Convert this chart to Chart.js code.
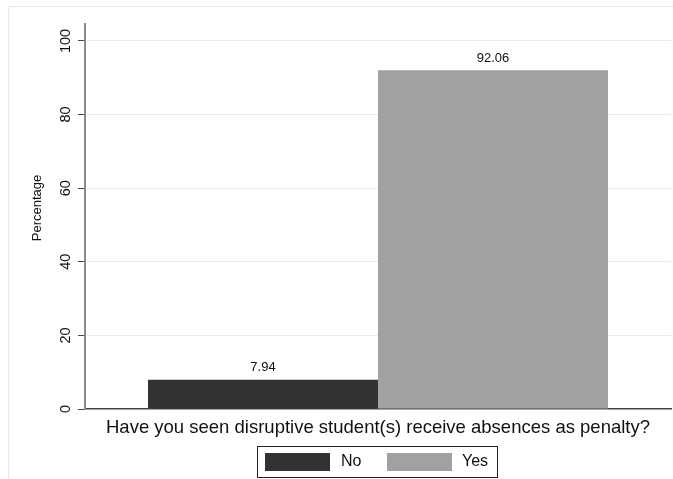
<!DOCTYPE html>
<html>
<head>
<meta charset="utf-8">
<script src="https://cdn.jsdelivr.net/npm/chart.js@4/dist/chart.umd.min.js"></script>
<style>
  body { margin: 0; background: #fff; }
  #wrap { width: 673px; height: 479px; }
</style>
</head>
<body>
<div id="wrap"><canvas id="penalty-chart" width="673" height="479"></canvas></div>
<script>
const categories = ['No', 'Yes'];
const percentages = [7.94, 92.06];
const yTicks = [0, 20, 40, 60, 80, 100];
const yTitle = 'Percentage';
const xTitle = 'Have you seen disruptive student(s) receive absences as penalty?';

const barColors = ['#323232', '#a1a1a1'];
const FONT = '"Liberation Sans", Arial, Helvetica, sans-serif';

// stata-ish text, labels and legend drawn by hand
const decorations = {
    id: 'decorations',
    beforeDraw(chart) {
        const ctx = chart.ctx;
        ctx.save();
        ctx.strokeStyle = '#e8e8e8';
        ctx.lineWidth = 1;
        ctx.beginPath();
        ctx.moveTo(8.5, 479); ctx.lineTo(8.5, 6.5); ctx.lineTo(673, 6.5);
        ctx.stroke();
        ctx.restore();
    },
    afterDraw(chart) {
        const ctx = chart.ctx;
        const y = chart.scales.y;
        ctx.save();
        ctx.fillStyle = '#111';

        // y tick labels, rotated
        ctx.font = '14.5px ' + FONT;
        ctx.textAlign = 'center';
        ctx.textBaseline = 'middle';
        yTicks.forEach(v => {
            ctx.save();
            ctx.translate(66, y.getPixelForValue(v));
            ctx.rotate(-Math.PI / 2);
            ctx.fillText(String(v), 0, 0);
            ctx.restore();
        });

        // y title
        ctx.font = '13px ' + FONT;
        ctx.save();
        ctx.translate(37, 208);
        ctx.rotate(-Math.PI / 2);
        ctx.fillText(yTitle, 0, 0);
        ctx.restore();

        // x title
        ctx.font = '18.5px ' + FONT;
        ctx.fillText(xTitle, (chart.chartArea.left + chart.chartArea.right) / 2, 428);

        // bar value labels
        ctx.font = '13px ' + FONT;
        chart.data.datasets.forEach((ds, i) => {
            const bar = chart.getDatasetMeta(i).data[0];
            ctx.fillText(ds.data[0].toFixed(2), bar.x, bar.y - 12);
        });

        // legend
        ctx.strokeStyle = '#222';
        ctx.lineWidth = 1;
        ctx.strokeRect(257.5, 446.5, 240, 31);
        const swatchX = [265, 387];
        const textX = [341, 462];
        ctx.font = '16px ' + FONT;
        ctx.textAlign = 'left';
        chart.data.datasets.forEach((ds, i) => {
            ctx.fillStyle = ds.backgroundColor;
            ctx.fillRect(swatchX[i], 453, 65, 18);
            ctx.fillStyle = '#111';
            ctx.fillText(ds.label, textX[i], 462);
        });
        ctx.restore();
    }
};

new Chart(document.getElementById('penalty-chart'), {
    type: 'bar',
    data: {
        labels: [''],
        datasets: categories.map((c, i) => ({
            label: c,
            data: [percentages[i]],
            backgroundColor: barColors[i],
            borderWidth: 0,
            categoryPercentage: 0.785,
            barPercentage: 1
        }))
    },
    options: {
        responsive: false,
        animation: false,
        layout: { padding: { top: 24, right: 2, left: 0, bottom: 0 } },
        plugins: { legend: { display: false }, tooltip: { enabled: false } },
        scales: {
            x: {
                grid: { display: false },
                ticks: { display: false },
                border: { color: '#444', width: 1.5 },
                afterFit: s => { s.height = 70; }
            },
            y: {
                min: 0,
                max: 104.6,
                afterBuildTicks: s => { s.ticks = yTicks.map(v => ({ value: v })); },
                ticks: { display: false },
                grid: {
                    color: c => (c.tick && c.tick.value === 0) ? 'rgba(0,0,0,0)' : '#ebebeb',
                    tickColor: '#444',
                    tickLength: 7,
                    lineWidth: 1
                },
                border: { color: '#8a8a8a', width: 2 },
                afterFit: s => { s.width = 85; }
            }
        }
    },
    plugins: [decorations]
});
</script>
</body>
</html>
